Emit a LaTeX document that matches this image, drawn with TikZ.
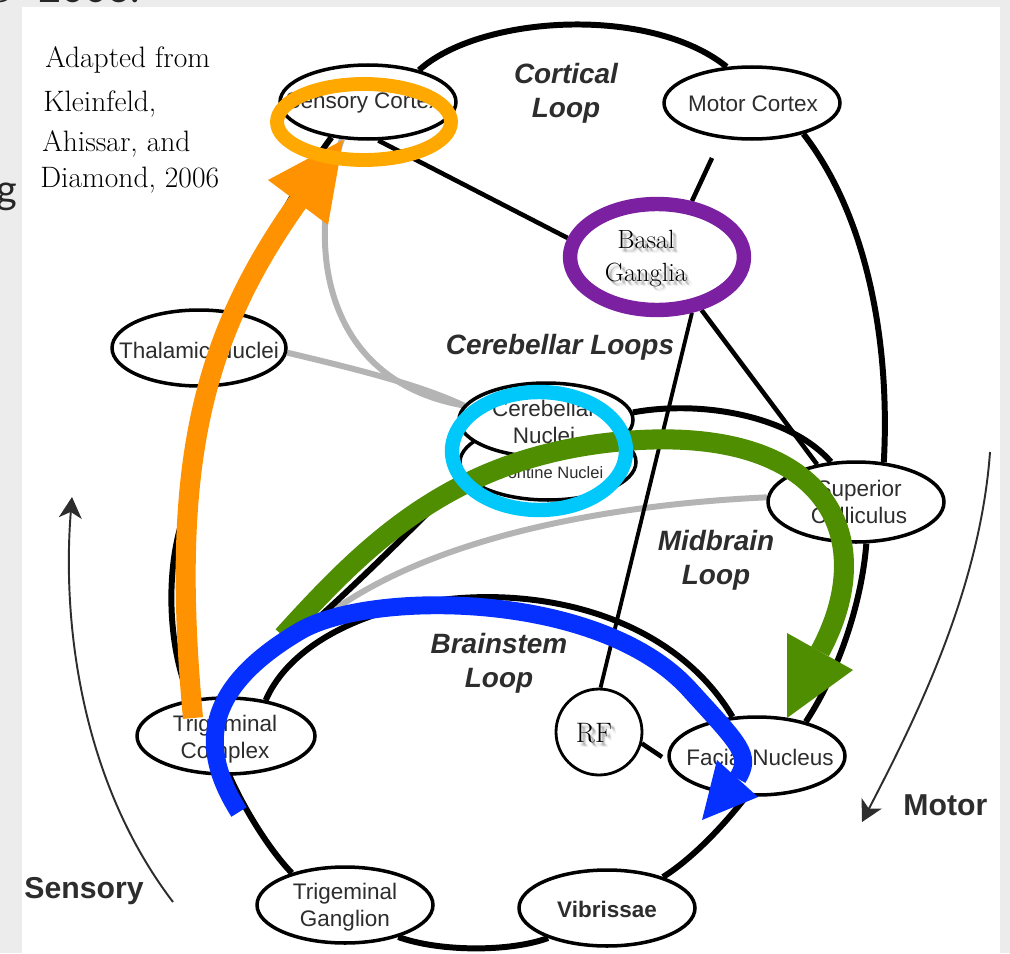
\documentclass[tikz,border=0pt]{standalone}
\usepackage{fontspec}
\newfontfamily\hv{Liberation Sans}
\newfontfamily\lato{Lato}
\usetikzlibrary{shapes.geometric,arrows.meta}
\pgfdeclarelayer{panel}
\pgfdeclarelayer{links}
\pgfsetlayers{panel,links,main}

\definecolor{panelgray}{RGB}{236,236,236}
\definecolor{ringorange}{RGB}{255,168,0}
\definecolor{arroworange}{RGB}{255,146,0}
\definecolor{ggreen}{RGB}{78,142,0}
\definecolor{bblue}{RGB}{5,48,255}
\definecolor{ccyan}{RGB}{0,200,250}
\definecolor{ppurple}{RGB}{122,32,160}
\definecolor{linkgray}{RGB}{180,180,180}
\definecolor{txtgray}{RGB}{45,45,45}

\tikzset{
  nucleus/.style={ellipse, draw=black, line width=2pt, fill=white, inner sep=0pt,
                  minimum width=3.52cm, minimum height=1.52cm},
  nucleustext/.style={font=\hv\fontsize{12.8}{15.3}\selectfont, text=txtgray, align=center, inner sep=0pt},
  looplabel/.style={font=\hv\bfseries\itshape\fontsize{15.9}{19.5}\selectfont, text=txtgray, align=center, inner sep=0pt},
  sidelabel/.style={font=\hv\bfseries\fontsize{17.2}{20}\selectfont, text=txtgray, inner sep=0pt, anchor=base west},
  citetext/.style={font=\rmfamily\fontsize{16.8}{19}\selectfont, text=black, inner sep=0pt, anchor=base west},
  seriftext/.style={font=\rmfamily\fontsize{15}{18.8}\selectfont, text=black, align=center, inner sep=0pt},
  serifshadow/.style={seriftext, text=black, text opacity=0.08},
  pathway/.style={line width=3.4pt, draw=black},
  sidepath/.style={line width=2.6pt, draw=black},
  greylink/.style={line width=3.4pt, draw=linkgray},
  ring/.style={ellipse, draw=#1, line width=8.2pt, inner sep=0pt, fill=none},
  thinarrow/.style={line width=1.1pt, draw=txtgray, -{Stealth[length=12pt,width=13pt,inset=3.5pt]}},
  headtext/.style={font=\lato\fontsize{22.7}{26}\selectfont, text=black!85, inner sep=0pt},
}

\begin{document}
\begin{tikzpicture}[x=0.02cm, y=-0.02cm]
\useasboundingbox (0,0) rectangle (1010,953);

% page panel
\begin{pgfonlayer}{panel}
  \fill[panelgray] (0,0) rectangle (1010,953);
  \fill[white] (22,7) rectangle (1000,953);
\end{pgfonlayer}

% slide text running off the panel
\node[headtext, anchor=base east] (copy) at (17,3) {©};
\node[headtext, anchor=base west] (year) at (38,3) {2006.};
\node[headtext, anchor=base east] (gtail) at (18,203) {g};

% citation
\node[citetext] (cite1) at (45,68) {Adapted from};
\node[citetext] (cite2) at (43,112) {Kleinfeld,};
\node[citetext] (cite3) at (42,152) {Ahissar, and};
\node[citetext] (cite4) at (40,187) {Diamond, 2006};

% nuclei
\node[nucleus] (pn) at (548,462) {};
\node[nucleustext, font=\hv\fontsize{9.4}{11}\selectfont] (pnt) at (550,473) {Pontine Nuclei};
\node[nucleus, minimum width=3.48cm, minimum height=1.48cm] (cn) at (546,420) {};
\node[nucleustext] (cnt) at (544,422) {Cerebellar\\Nuclei};
\node[nucleus, minimum height=1.48cm] (sc) at (368,102) {};
\node[nucleustext] (sct) at (363,103) {Sensory Cortex};
\node[nucleus, minimum height=1.44cm] (mc) at (752,103) {};
\node[nucleustext] (mct) at (753,104) {Motor Cortex};
\node[nucleus, minimum width=3.48cm] (th) at (199,348) {};
\node[nucleustext] (tht) at (199,350) {Thalamic Nuclei};
\node[nucleus, minimum height=1.6cm] (su) at (856,502) {};
\node[nucleustext] (sut) at (859,502) {Superior\\Colliculus};
\node[nucleus, minimum width=3.56cm] (tc) at (226,736) {};
\node[nucleustext] (tct) at (225,739) {Trigeminal\\Complex};
\node[nucleus] (tg) at (345,905) {};
\node[nucleustext] (tgt) at (345,907) {Trigeminal\\Ganglion};
\node[nucleus] (vi) at (607,908) {};
\node[nucleustext, font=\hv\bfseries\fontsize{12.8}{15.3}\selectfont] (vit) at (607,909) {Vibrissae};
\node[nucleus, minimum height=1.56cm] (fn) at (757,756) {};
\node[nucleustext] (fnt) at (760,757) {Facial Nucleus};

% reticular formation
\node[circle, draw=black, line width=1.6pt, fill=white, minimum size=1.72cm, inner sep=0pt] (rf) at (599,732) {};
\foreach \dx/\dy [count=\i] in {2/2,3/3,4/4,5/5,3/4,4/3}
  \node[serifshadow, font=\rmfamily\fontsize{16}{18}\selectfont] (rfsh\i) at (594+\dx,733+\dy) {RF};
\node[seriftext, font=\rmfamily\fontsize{16}{18}\selectfont] (rft) at (594,733) {RF};

% loop names
\node[looplabel] (lcort) at (566,93) {Cortical\\Loop};
\node[looplabel] (lcereb) at (560,347) {Cerebellar Loops};
\node[looplabel] (lmid) at (716,560) {Midbrain\\Loop};
\node[looplabel] (lbrain) at (499,663) {Brainstem\\Loop};

% direction arrows
\node[sidelabel] (lsens) at (24,898) {Sensory};
\node[sidelabel] (lmot) at (903,815) {Motor};
\coordinate (sensA) at (173,902);
\coordinate (sensB) at (72,497);
\draw[thinarrow] (sensA) .. controls (80,780) and (62,620) .. (sensB);
\coordinate (motA) at (990,452);
\coordinate (motB) at (862,822);
\draw[thinarrow] (motA) .. controls (980,590) and (915,720) .. (motB);

% highlighted pathways
\draw[line width=11.4pt, draw=ggreen] (283,636) .. controls (370,540) and (460,450) .. (640,440)
      .. controls (830,430) and (880,540) .. (820,651.5);
\fill[ggreen] (787,633) -- (787,718) -- (853,670) -- cycle;
\node[ring=ccyan, minimum width=3.48cm, minimum height=2.36cm] (cnring) at (539,451) {};
\draw[line width=10.2pt, draw=bblue] (239,812) .. controls (200,750) and (200,690) .. (300,631)
      .. controls (370,590) and (600,590) .. (690,690)
      .. controls (740,745) and (752,755) .. (737.5,778.5);
\fill[bblue] (717,760) -- (758,797) -- (702,820) -- cycle;
\draw[line width=11.4pt, draw=arroworange] (193,718) .. controls (170,470) and (200,340) .. (298,202);
\fill[arroworange] (268,180) -- (343,140) -- (328,225) -- cycle;
\node[ring=ringorange, line width=7.9pt, minimum width=3.48cm, minimum height=1.52cm] (scring) at (364,122) {};

% basal ganglia
\node[ring=ppurple, minimum width=3.48cm, minimum height=2.12cm] (bg) at (657,257) {};
\foreach \dx/\dy [count=\i] in {2/2,3/3,4/4,5/5,3/4,4/3}
  \node[serifshadow] (bgsh\i) at (646+\dx,259+\dy) {Basal\\Ganglia};
\node[seriftext] (bgt) at (646,259) {Basal\\Ganglia};

% free ends
\coordinate (mbfork) at (318,622);
\coordinate (cbfork) at (290,643);
\coordinate (mcgap) at (712,158);
\coordinate (rfend) at (662,757);

% connections
\begin{pgfonlayer}{links}
  \draw[greylink] (th.-3) .. controls (360,370) and (420,385) .. (cn.170);
  \draw[greylink] (sc.-125) .. controls (305,240) and (320,380) .. (cn.170);
  \draw[greylink] (mbfork) .. controls (420,540) and (600,505) .. (su.177);
  % outer loop
  \draw[pathway] (sc.32) .. controls (480,15) and (650,5) .. (mc.125);
  \draw[pathway] (mc.-31) .. controls (870,220) and (890,350) .. (su.55);
  \draw[pathway] (su.-76) .. controls (862,600) and (840,670) .. (fn.35);
  \draw[pathway] (fn.-105) .. controls (720,830) and (690,860) .. (vi.29);
  \draw[pathway] (vi.-153) .. controls (510,952) and (440,952) .. (tg.-31);
  \draw[pathway] (tg.149) .. controls (265,845) and (240,800) .. (tc.-85);
  \draw[pathway] (tc.134) .. controls (168,650) and (166,575) .. (181,525)
                 .. controls (191,480) and (198,420) .. (th.-84);
  \draw[pathway] (th.45) .. controls (250,275) and (282,205) .. (sc.-136);
  % brainstem arc
  \draw[pathway] (tc.42) .. controls (320,575) and (630,545) .. (fn.122);
  % cerebellar paths
  \draw[pathway] (cbfork) .. controls (357,585) and (420,520) .. (pn.190);
  \draw[pathway] (cn.5) .. controls (700,400) and (790,415) .. (su.122);
  % basal ganglia links
  \draw[sidepath] (sc.-75) -- (bg.168);
  \draw[sidepath] (mcgap) -- (bg.58);
  \draw[sidepath, line width=2.2pt] (bg.-58) -- (rf.88);
  \draw[sidepath] (bg.-50) -- (su.136);
  \draw[sidepath] (rf.-15) -- (rfend);
\end{pgfonlayer}
\end{tikzpicture}
\end{document}
